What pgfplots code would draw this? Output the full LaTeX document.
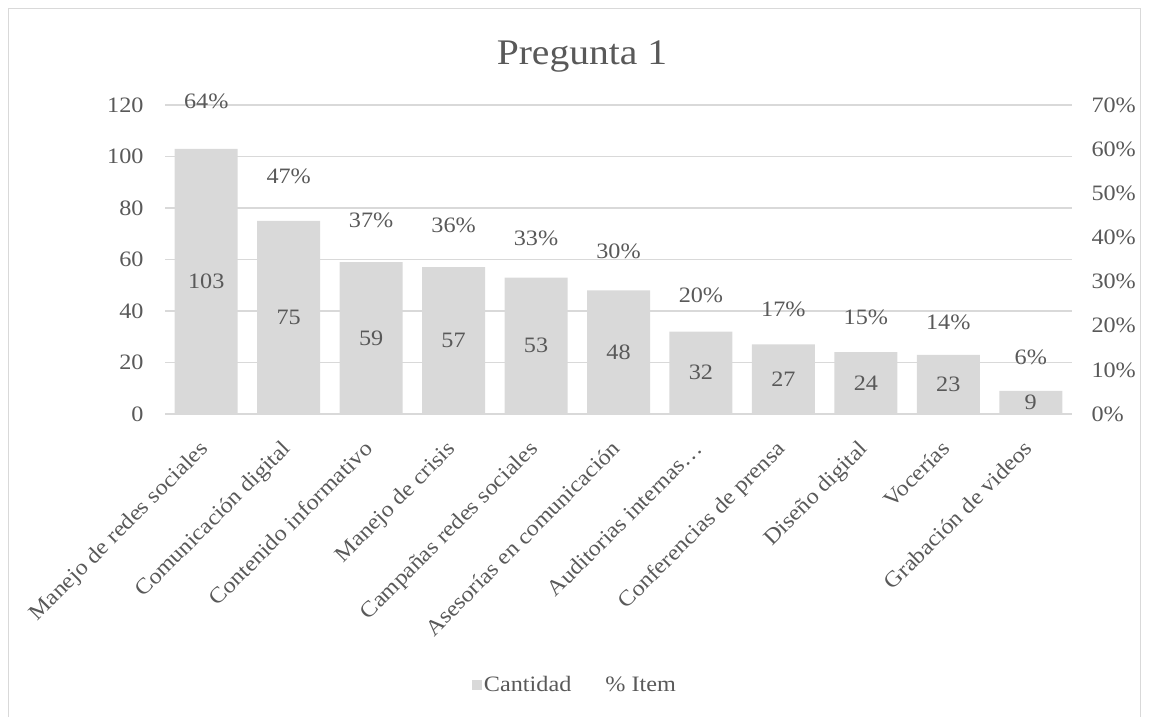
\documentclass[border=0pt]{standalone}
\usepackage{fontspec}
\setmainfont[FakeStretch=1.1]{Liberation Serif}
\usepackage{pgfplots}
\usepackage{pgfplotstable}
\pgfplotsset{compat=1.18}
\definecolor{barg}{RGB}{217,217,217}
\definecolor{gridg}{RGB}{217,217,217}
\definecolor{txt}{RGB}{89,89,89}
\definecolor{framec}{RGB}{217,217,217}

\pgfplotstableread{
x v p
0 103 64
1 75 47
2 59 37
3 57 36
4 53 33
5 48 30
6 32 20
7 27 17
8 24 15
9 23 14
10 9 6
}\data

\begin{document}
\begin{tikzpicture}[x=1pt,y=1pt]
\useasboundingbox (0,0) rectangle (1149,717);
\draw[framec, line width=1pt] (8.5,-2) rectangle (1140.5,708.5);
\node[text=txt, font=\fontsize{36}{40}\selectfont, anchor=base] at (582,652) {Pregunta 1};
\begin{axis}[
  at={(165pt,303pt)}, anchor=south west, scale only axis,
  width=907pt, height=309pt,
  xmin=-0.5, xmax=10.5, ymin=0, ymax=120,
  ytick={0,20,...,120},
  xtick={0,...,10},
  xticklabels={Manejo de redes sociales, Comunicación digital, Contenido informativo, Manejo de crisis, Campañas redes sociales, Asesorías en comunicación, Auditorias internas…, Conferencias de prensa, Diseño digital, Vocerías, Grabación de videos},
  axis line style={draw=none}, major tick length=0pt,
  ymajorgrids, grid style={gridg, line width=1.3pt},
  tick label style={font=\fontsize{22}{24}\selectfont, text=txt},
  /pgf/number format/assume math mode=true,
  yticklabel style={xshift=-18pt},
  xticklabel style={xshift=-8pt, yshift=-25pt, rotate=45, anchor=north east, inner sep=0pt},
  legend style={at={(0.452,-0.877)}, anchor=center, draw=none, fill=none,
    legend columns=2, font=\fontsize{22}{24}\selectfont, text=txt,
    /tikz/every even column/.append style={column sep=30pt}},
]
\addplot[ybar, bar width=63pt, bar shift=0pt, fill=barg, draw=none,
  legend image code/.code={\fill[barg] (0pt,-5pt) rectangle (10pt,5pt);}]
  table[x=x, y=v] {\data};
\addlegendentry{Cantidad}
\addplot[draw=none, mark=none, forget plot, nodes near coords, point meta=explicit,
  every node near coord/.append style={anchor=center, font=\fontsize{22}{24}\selectfont, text=txt}]
  table[x=x, y expr=\thisrow{v}/2, meta=v] {\data};
\addlegendimage{empty legend}
\addlegendentry{\% Item}
\end{axis}
\begin{axis}[
  at={(165pt,303pt)}, anchor=south west, scale only axis,
  width=907pt, height=309pt,
  xmin=-0.5, xmax=10.5, ymin=0, ymax=70,
  ytick={0,10,...,70},
  hide x axis,
  axis line style={draw=none}, major tick length=0pt,
  yticklabel pos=right,
  yticklabel={\pgfmathprintnumber{\tick}\%},
  tick label style={font=\fontsize{22}{24}\selectfont, text=txt},
  /pgf/number format/assume math mode=true,
  yticklabel style={xshift=16pt},
]
\addplot[draw=none, mark=none, nodes near coords={\pgfmathprintnumber{\pgfplotspointmeta}\%}, point meta=explicit,
  every node near coord/.append style={anchor=center, yshift=30pt, font=\fontsize{22}{24}\selectfont, text=txt}]
  table[x=x, y=p, meta=p] {\data};
\end{axis}
\end{tikzpicture}
\end{document}
